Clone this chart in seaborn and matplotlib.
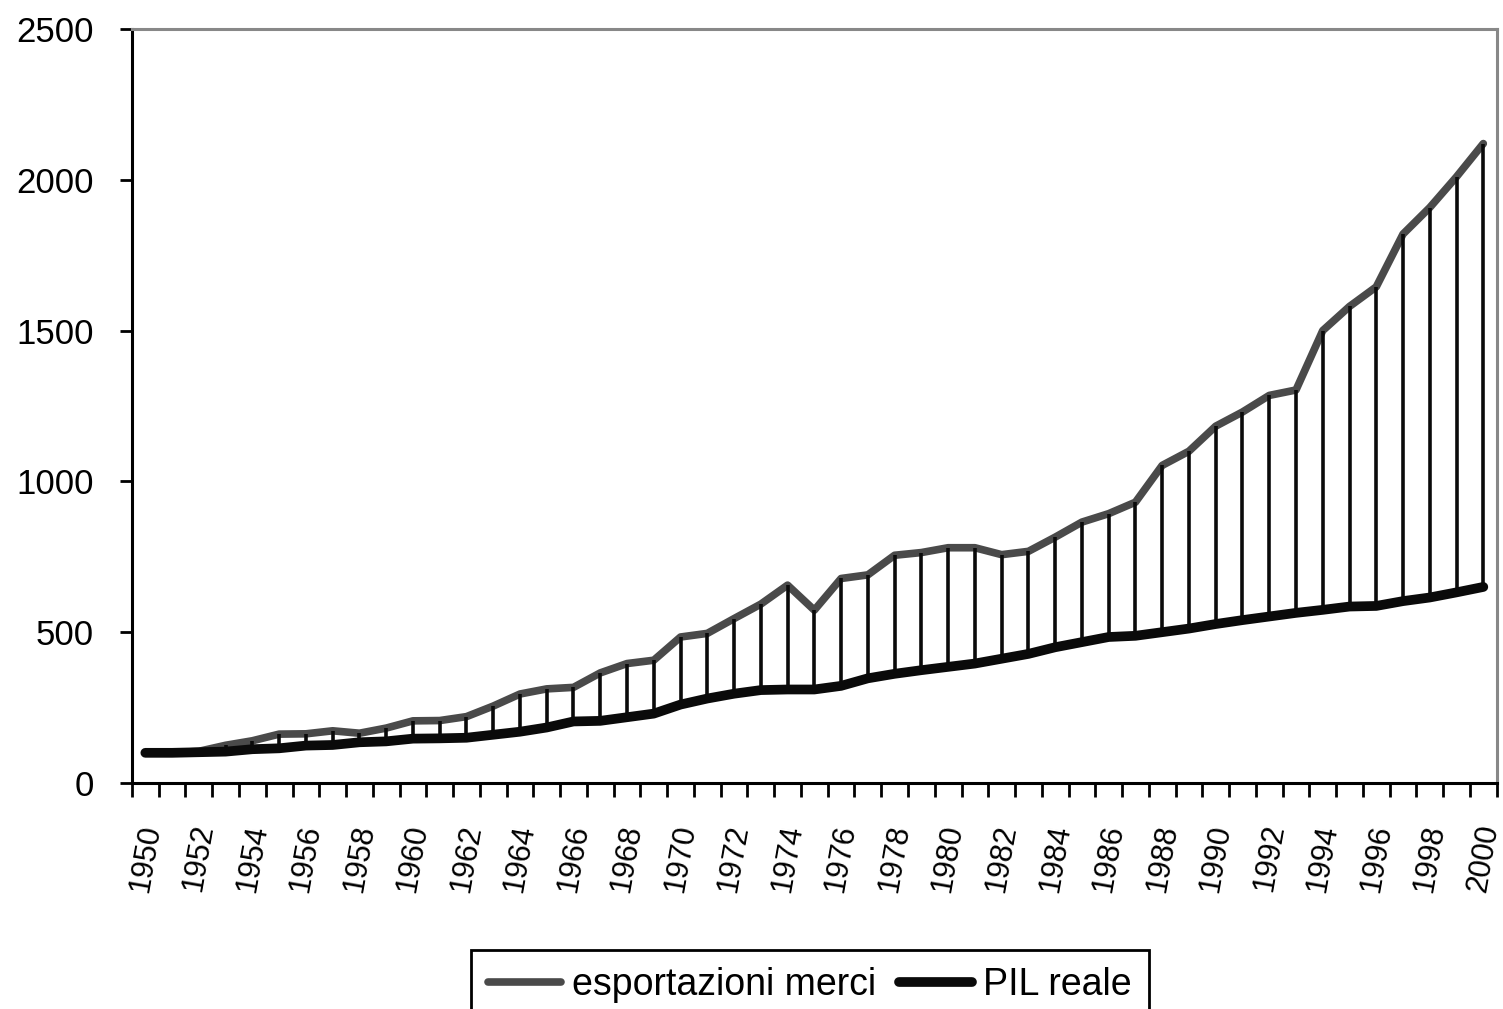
import numpy as np
import pandas as pd
import matplotlib
matplotlib.use("Agg")
import matplotlib.pyplot as plt
import seaborn as sns
from matplotlib import font_manager
from matplotlib.ticker import FixedLocator

YEARS = list(range(1950, 2001))

ESPORTAZIONI = [100, 100, 105, 125, 140, 162, 163, 173, 165, 182,
                206, 207, 220, 255, 295, 312, 317, 365, 396, 407,
                484, 496, 545, 593, 656, 573, 678, 690, 755, 764,
                780, 780, 757, 768, 815, 865, 893, 931, 1053, 1100,
                1183, 1230, 1285, 1303, 1500, 1580, 1645, 1820, 1908, 2010,
                2120]

PIL = [100, 100, 102, 104, 112, 115, 124, 126, 135, 138,
       147, 148, 150, 160, 170, 184, 204, 206, 218, 230,
       260, 280, 296, 308, 310, 310, 322, 347, 362, 374,
       385, 396, 412, 428, 450, 467, 484, 488, 500, 512,
       527, 540, 552, 564, 574, 585, 587, 603, 615, 632,
       650]

Y_TICKS = [0, 500, 1000, 1500, 2000, 2500]
X_LABEL_YEARS = YEARS[::2]

GREY = "#4a4a4a"
BLACK = "#0a0a0a"

sns.set_style("white")
plt.rcParams["text.color"] = "black"
plt.rcParams["xtick.color"] = "black"
plt.rcParams["ytick.color"] = "black"

# narrow font like the original if available
names = {f.name for f in font_manager.fontManager.ttflist}
if "Liberation Sans Narrow" in names:
    plt.rcParams["font.family"] = ["Liberation Sans Narrow", "DejaVu Sans"]
    ytick_size, xtick_size, legend_size = 31, 27, 33
else:
    plt.rcParams["font.family"] = ["Liberation Sans", "DejaVu Sans"]
    ytick_size, xtick_size, legend_size = 25, 22, 27

df = pd.DataFrame({"anno": YEARS, "esportazioni merci": ESPORTAZIONI, "PIL reale": PIL})

fig = plt.figure(figsize=(15.03, 10.09), dpi=100)
ax = fig.add_axes([0.0878, 0.224, 0.908, 0.7473])

sns.lineplot(data=df, x="anno", y="esportazioni merci", color=GREY, linewidth=5.5,
             label="esportazioni merci", ax=ax, zorder=2)
ax.vlines(df["anno"], df["PIL reale"], df["esportazioni merci"], color=BLACK,
          linewidth=2.6, zorder=3)
sns.lineplot(data=df, x="anno", y="PIL reale", color=BLACK, linewidth=7,
             label="PIL reale", ax=ax, zorder=4)

ax.set_xlim(1949.5, 2000.5)
ax.set_ylim(0, 2500)
ax.set_xlabel("")
ax.set_ylabel("")

# y axis
ax.set_yticks(Y_TICKS)
ax.set_yticklabels([str(v) for v in Y_TICKS], fontsize=ytick_size)
ax.tick_params(axis="y", left=True, direction="out", length=8.6, width=2, pad=19,
               colors="black")

# x axis: labels at even years, tick marks at category boundaries
ax.set_xticks(X_LABEL_YEARS)
ax.set_xticklabels([str(y) for y in X_LABEL_YEARS], rotation=80, fontsize=xtick_size,
                   ha="center", va="top", color="black")
ax.xaxis.set_minor_locator(FixedLocator(np.arange(1949.5, 2001, 1.0)))
ax.tick_params(axis="x", which="major", bottom=True, length=0, pad=28)
ax.tick_params(axis="x", which="minor", bottom=True, direction="out", length=10,
               width=2, color="black")

for side in ["left", "bottom"]:
    ax.spines[side].set_color("black")
    ax.spines[side].set_linewidth(2.2)
for side in ["top", "right"]:
    ax.spines[side].set_visible(True)
    ax.spines[side].set_color("#888888")
    ax.spines[side].set_linewidth(2.2)

ax.grid(False)
ax.get_legend().remove()
handles, labels = ax.get_legend_handles_labels()
leg = fig.legend(handles, labels, loc="upper center", bbox_to_anchor=(0.539, 0.0585),
                 ncol=2, fontsize=legend_size, frameon=True, fancybox=False,
                 handlelength=1.95, handletextpad=0.3, columnspacing=0.6,
                 borderpad=0.45, borderaxespad=0)
leg.get_frame().set_edgecolor("black")
leg.get_frame().set_linewidth(2)
leg.get_frame().set_alpha(1)

fig.savefig("out.png", dpi=100)
